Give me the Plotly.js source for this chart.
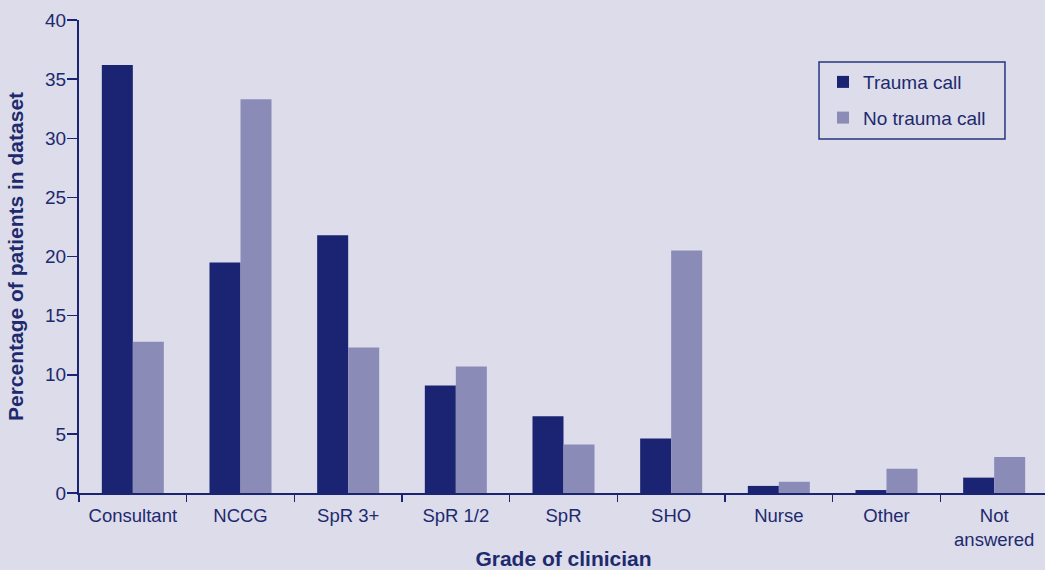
<!DOCTYPE html>
<html>
<head>
<meta charset="utf-8">
<script src="https://cdn.plot.ly/plotly-3.0.1.min.js"></script>
<style>html,body{margin:0;padding:0;overflow:hidden;background:#dcdcea;}</style>
</head>
<body>
<div id="chart" style="width:1048px;height:570px;"></div>
<script>
const categories = ["Consultant", "NCCG", "SpR 3+", "SpR 1/2", "SpR", "SHO", "Nurse", "Other", "Not<br>answered"];
const traumaCall = [36.2, 19.5, 21.8, 9.1, 6.5, 4.6, 0.6, 0.25, 1.3];
const noTraumaCall = [12.8, 33.3, 12.3, 10.7, 4.1, 20.5, 0.95, 2.05, 3.05];
const yTicks = [0, 5, 10, 15, 20, 25, 30, 35, 40];

const navy = "#1a2472";
const lilac = "#8b8bb8";
const textCol = "#1e2a6e";
const font = "Liberation Sans, Arial, sans-serif";

const data = [
  {type: "bar", name: "Trauma call", x: categories, y: traumaCall,
   marker: {color: navy, line: {width: 0}}, legendgroup: "a", hoverinfo: "skip"},
  {type: "bar", name: "No trauma call", x: categories, y: noTraumaCall,
   marker: {color: lilac, line: {width: 0}}, legendgroup: "b", hoverinfo: "skip"}
];

const layout = {
  width: 1048, height: 570,
  paper_bgcolor: "#dcdcea", plot_bgcolor: "#dcdcea",
  margin: {l: 79, r: 0, t: 20, b: 77},
  barmode: "group", bargap: 0.424, bargroupgap: 0,
  font: {family: font, color: textCol, size: 18},
  showlegend: true,
  legend: {
    x: 0.7678, y: 0.909, xanchor: "left", yanchor: "top",
    bgcolor: "rgba(0,0,0,0)", borderwidth: 0,
    font: {size: 19, color: textCol, family: font},
    traceorder: "grouped", tracegroupgap: 8
  },
  shapes: [{
    type: "rect", xref: "paper", yref: "paper",
    x0: 0.7637, x1: 0.9556, y0: 0.7484, y1: 0.9112,
    line: {color: "#2a3580", width: 1.5}, fillcolor: "rgba(0,0,0,0)"
  }],
  xaxis: {
    type: "category", showline: true, linecolor: navy, linewidth: 2,
    ticks: "outside", tickson: "boundaries", ticklen: 7, tickcolor: navy, tickwidth: 1.5,
    showgrid: false, zeroline: false, automargin: false,
    ticklabelstandoff: 5,
    tickfont: {size: 18.5, color: textCol},
    title: {text: "<b>Grade of clinician</b>", font: {size: 21, color: textCol}, standoff: 5}
  },
  yaxis: {
    range: [0, 40], tickvals: yTicks, ticktext: yTicks.map(String),
    showline: true, linecolor: navy, linewidth: 2,
    ticks: "outside", ticklen: 10, tickcolor: navy, tickwidth: 1.5,
    showgrid: false, zeroline: false, automargin: false,
    ticklabelstandoff: -3,
    tickfont: {size: 19, color: textCol},
    title: {text: "<b>Percentage of patients in dataset</b>", font: {size: 21, color: textCol}, standoff: 16}
  }
};

Plotly.newPlot("chart", data, layout, {displayModeBar: false, staticPlot: true});
</script>
</body>
</html>
